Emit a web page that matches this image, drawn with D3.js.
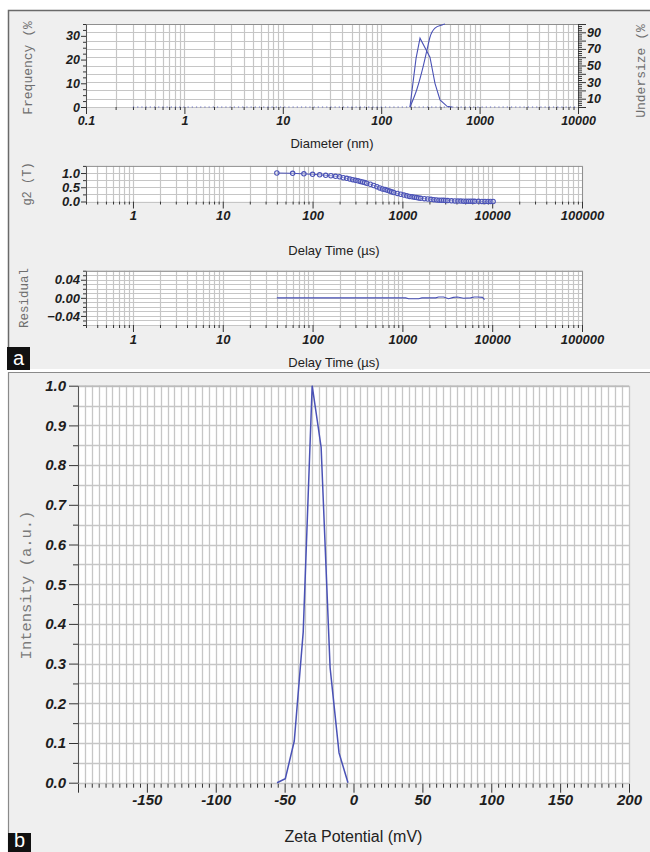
<!DOCTYPE html>
<html>
<head>
<meta charset="utf-8">
<script src="https://cdn.jsdelivr.net/npm/d3@7"></script>
<style>
  body { margin: 0; background: #fff; }
  svg { display: block; }
</style>
</head>
<body>
<svg id="chart" width="650" height="852"></svg>
<script>
// ---- Size distribution (panel a, top) ----
const sizeDiameter = [196, 226, 248, 313, 352, 396, 467, 525];
const sizeFrequency = [0, 20.5, 29, 21, 10, 3, 0.3, 0];
const undersizeDiameter = [196, 231, 266, 292, 313, 352, 415, 445];
const undersizePercent = [0, 21.7, 48, 68.7, 84, 95, 98.8, 100];
const frequencyBaseline = [0.3, 10000];
const diameterTickLabels = [0.1, 1, 10, 100, 1000, 10000];
const frequencyTickLabels = [0, 10, 20, 30];
const undersizeTickLabels = [10, 30, 50, 70, 90];

// ---- Correlation function (panel a, middle) ----
const g2Delay = [40, 60, 80, 100, 120, 140, 160, 180, 200,
  220, 240, 260, 280, 300, 320, 340, 360, 380, 400,
  440, 480, 520, 560, 600, 640, 680, 720, 760, 800,
  880, 960, 1040, 1120, 1200, 1280, 1360, 1440, 1520, 1600,
  1760, 1920, 2080, 2240, 2400, 2560, 2720, 2880, 3040, 3200,
  3520, 3840, 4160, 4480, 4800, 5120, 5440, 5760, 6080, 6400,
  7040, 7680, 8320, 8960, 9600, 10240];
const g2Value = [1.00, 0.99, 0.97, 0.955, 0.935, 0.92, 0.905, 0.885, 0.865,
  0.834, 0.812, 0.789, 0.766, 0.745, 0.725, 0.705, 0.685, 0.665, 0.645,
  0.605, 0.562, 0.52, 0.478, 0.443, 0.418, 0.392, 0.366, 0.34, 0.315,
  0.283, 0.254, 0.225, 0.198, 0.179, 0.165, 0.151, 0.137, 0.123, 0.11,
  0.099, 0.088, 0.076, 0.065, 0.055, 0.048, 0.044, 0.04, 0.037, 0.033,
  0.025, 0.019, 0.016, 0.014, 0.012, 0.011, 0.01, 0.009, 0.008, 0.007,
  0.005, 0.004, 0.003, 0.002, 0.001, 0.0];
const delayTickLabels = [1, 10, 100, 1000, 10000, 100000];
const g2TickLabels = [0.0, 0.5, 1.0];

// ---- Fit residual (panel a, bottom) ----
const residualDelay = [40, 1000, 1088, 1175, 1517, 1650, 2350, 2529, 2876, 3266, 3700, 4111, 4797, 5737, 6300, 6871, 7802, 8210];
const residualValue = [0, 0, 0, -0.002, -0.002, 0, 0, 0.002, 0.002, -0.002, 0.001, 0.002, -0.001, 0, 0.002, 0.002, 0.001, -0.004];
const residualTickLabels = [-0.04, 0.00, 0.04];

// ---- Zeta potential distribution (panel b) ----
const zetaPotential = [-55.5, -49.5, -43, -36.5, -30, -23.5, -17, -10.5, -4];
const zetaIntensity = [0, 0.01, 0.105, 0.38, 1.0, 0.845, 0.29, 0.075, 0];
const zetaTickLabels = [-150, -100, -50, 0, 50, 100, 150, 200];
const intensityTickLabels = [0, 0.1, 0.2, 0.3, 0.4, 0.5, 0.6, 0.7, 0.8, 0.9, 1.0];

const svg = d3.select('#chart');
const GRID = '#c6c6c6';
const BLUE = '#4a52b6';
const SANS = "'Liberation Sans', Arial, sans-serif";
const MONO = "'Liberation Mono', 'Courier New', monospace";

// Every 1..9 × 10^n value inside a log domain, for ticks and gridlines
function logSteps(lo, hi) {
  const out = [];
  for (let e = Math.floor(Math.log10(lo)); e <= Math.ceil(Math.log10(hi)); e++) {
    for (let k = 1; k <= 9; k++) {
      const v = +(k * Math.pow(10, e)).toPrecision(4);
      if (v >= lo * 0.999 && v <= hi * 1.001) out.push(v);
    }
  }
  return out;
}
const isDecade = v => Math.abs(Math.log10(v) - Math.round(Math.log10(v))) < 1e-9;
const near = (list, v) => list.some(d => Math.abs(d - v) < 1e-9);

// Panel backgrounds and frames
svg.append('rect').attr('x', 8).attr('y', 10).attr('width', 642).attr('height', 359).attr('fill', '#efefef');
svg.append('rect').attr('x', 8).attr('y', 372).attr('width', 642).attr('height', 480).attr('fill', '#efefef');
svg.append('path').attr('d', 'M8.5,369V10.5H650').attr('fill', 'none').attr('stroke', '#6a6a6a').attr('stroke-width', 1.5);
svg.append('path').attr('d', 'M8.5,852V372.5H650').attr('fill', 'none').attr('stroke', '#8a8a8a').attr('stroke-width', 1.2);

function styleTickText(sel, size) {
  sel.selectAll('text')
    .attr('font-family', SANS).attr('font-size', size)
    .attr('font-weight', 'bold').attr('font-style', 'italic').attr('fill', '#1d1d1d');
}

// A white plot area with a logarithmic x axis
function logPanel(opts) {
  const { x, y, gridY, tickLabels, labelSize, labelGap } = opts;
  const [x0, x1] = x.range();
  const [yb, yt] = y.range();
  const g = svg.append('g');
  g.append('rect').attr('x', x0).attr('y', yt).attr('width', x1 - x0).attr('height', yb - yt).attr('fill', '#fff');
  const steps = logSteps(x.domain()[0], x.domain()[1]);
  g.append('g').selectAll('line').data(steps).join('line')
    .attr('x1', d => Math.round(x(d)) + 0.5).attr('x2', d => Math.round(x(d)) + 0.5)
    .attr('y1', yt).attr('y2', yb).attr('stroke', GRID).attr('stroke-width', 1.2);
  g.append('g').selectAll('line').data(gridY).join('line')
    .attr('x1', x0).attr('x2', x1)
    .attr('y1', d => Math.round(opts.gridScale(d)) + 0.5).attr('y2', d => Math.round(opts.gridScale(d)) + 0.5)
    .attr('stroke', GRID).attr('stroke-width', 1.2);
  // top and right border
  g.append('path').attr('d', `M${x0},${yt + 0.5}H${x1 + 0.5}V${yb}`).attr('fill', 'none').attr('stroke', '#8f8f8f');
  // bottom axis
  const ax = g.append('g').attr('transform', `translate(0,${yb})`)
    .call(d3.axisBottom(x).tickValues(steps).tickSizeInner(3).tickSizeOuter(0).tickPadding(labelGap)
      .tickFormat(d => near(tickLabels, d) ? String(d) : ''));
  ax.select('.domain').remove();
  ax.selectAll('.tick line').attr('stroke', '#333').attr('y2', d => isDecade(d) ? 7 : 3);
  styleTickText(ax, labelSize);
  return g;
}

function leftAxis(g, scale, ticks, labels, fmt, x0, size, majorLen, minorLen) {
  const ax = g.append('g').attr('transform', `translate(${x0},0)`)
    .call(d3.axisLeft(scale).tickValues(ticks).tickSizeInner(minorLen).tickSizeOuter(0).tickPadding(majorLen - 2)
      .tickFormat(d => near(labels, d) ? fmt(d) : ''));
  ax.select('.domain').attr('stroke', '#555');
  ax.selectAll('.tick line').attr('stroke', '#333').attr('x2', d => near(labels, d) ? -majorLen : -minorLen);
  styleTickText(ax, size);
  return ax;
}

function axisTitle(text, x, y, size) {
  svg.append('text').attr('x', x).attr('y', y).attr('text-anchor', 'middle')
    .attr('font-family', SANS).attr('font-size', size).attr('fill', '#222').text(text);
}
function sideTitle(text, x, y, size, color) {
  svg.append('text').attr('transform', `translate(${x},${y}) rotate(-90)`).attr('text-anchor', 'middle')
    .attr('dy', '0.35em').attr('font-family', MONO).attr('font-size', size).attr('fill', color).text(text);
}

// ===== Panel a, top: size distribution =====
const xDia = d3.scaleLog().domain([0.1, 10000]).range([86, 578]);
const yFreq = d3.scaleLinear().domain([0, 35]).range([107, 24]);
const yUnder = d3.scaleLinear().domain([0, 100]).range([107, 24]);
const pTop = logPanel({ x: xDia, y: yFreq, gridY: d3.range(0, 101, 10), gridScale: yUnder,
  tickLabels: diameterTickLabels, labelSize: 12.5, labelGap: 6 });
leftAxis(pTop, yFreq, d3.range(0, 35.1, 2.5), frequencyTickLabels, d => d3.format('d')(d), 86, 12.5, 5, 3);
{
  const ax = pTop.append('g').attr('transform', 'translate(578,0)')
    .call(d3.axisRight(yUnder).tickValues(d3.range(0, 100.1, 2.5)).tickSizeInner(4).tickSizeOuter(0).tickPadding(5)
      .tickFormat(d => near(undersizeTickLabels, d) ? String(d) : ''));
  ax.select('.domain').attr('stroke', '#555');
  ax.selectAll('.tick line').attr('stroke', '#333').attr('x2', d => d % 10 === 0 ? 8 : 4);
  styleTickText(ax, 12.5);
}
pTop.append('path').datum(frequencyBaseline)
  .attr('d', d3.line().x(d => xDia(d)).y(() => yFreq(0)))
  .attr('stroke', BLUE).attr('stroke-width', 1).attr('stroke-dasharray', '1.2,3').attr('fill', 'none').attr('opacity', 0.8);
pTop.append('path').datum(d3.zip(sizeDiameter, sizeFrequency))
  .attr('d', d3.line().x(d => xDia(d[0])).y(d => yFreq(d[1])))
  .attr('stroke', BLUE).attr('stroke-width', 1.1).attr('fill', 'none');
pTop.append('path').datum(d3.zip(undersizeDiameter, undersizePercent))
  .attr('d', d3.line().x(d => xDia(d[0])).y(d => yUnder(d[1])).curve(d3.curveMonotoneX))
  .attr('stroke', BLUE).attr('stroke-width', 1.1).attr('fill', 'none');
axisTitle('Diameter (nm)', 332, 147.5, 13);
sideTitle('Frequency (%', 27, 68, 13, '#6e6e6e');
sideTitle('Undersize (%', 640, 71, 13, '#6e6e6e');

// ===== Panel a, middle: correlation function =====
const xDelay = d3.scaleLog().domain([0.3, 100000]).range([86, 582]);
const yG2 = d3.scaleLinear().domain([0, 1.25]).range([201.5, 165.9]);
const pMid = logPanel({ x: xDelay, y: yG2, gridY: [0, 0.25, 0.5, 0.75, 1.0], gridScale: yG2,
  tickLabels: delayTickLabels, labelSize: 13, labelGap: 6 });
leftAxis(pMid, yG2, [0, 0.25, 0.5, 0.75, 1.0, 1.25], g2TickLabels, d => d3.format('.1f')(d), 86, 13, 5, 3);
pMid.append('path').datum(d3.zip(g2Delay, g2Value))
  .attr('d', d3.line().x(d => xDelay(d[0])).y(d => yG2(d[1])))
  .attr('stroke', BLUE).attr('stroke-width', 1).attr('fill', 'none');
pMid.append('g').selectAll('circle').data(d3.zip(g2Delay, g2Value)).join('circle')
  .attr('cx', d => xDelay(d[0])).attr('cy', d => yG2(d[1])).attr('r', 2.2)
  .attr('fill', '#fff').attr('fill-opacity', 0.3).attr('stroke', BLUE).attr('stroke-width', 1.1);
axisTitle('Delay Time (µs)', 334, 254.5, 13);
sideTitle('g2 (T)', 27, 184, 12, '#6e6e6e');

// ===== Panel a, bottom: residual =====
const yRes = d3.scaleLinear().domain([-0.06, 0.06]).range([325, 270.7]);
const pRes = logPanel({ x: xDelay, y: yRes, gridY: d3.range(-6, 7).map(i => i / 100), gridScale: yRes,
  tickLabels: delayTickLabels, labelSize: 13, labelGap: 7 });
leftAxis(pRes, yRes, d3.range(-6, 7).map(i => i / 100), residualTickLabels, d => d3.format('.2f')(d), 86, 13, 5, 3);
pRes.append('path').datum(d3.zip(residualDelay, residualValue))
  .attr('d', d3.line().x(d => xDelay(d[0])).y(d => yRes(d[1])))
  .attr('stroke', BLUE).attr('stroke-width', 1.1).attr('fill', 'none');
axisTitle('Delay Time (µs)', 334, 366.5, 13);
sideTitle('Residual', 24, 298, 12.5, '#6e6e6e');

// ===== Panel b: zeta potential =====
const xZeta = d3.scaleLinear().domain([-200, 200]).range([78, 629]);
const yInt = d3.scaleLinear().domain([0, 1]).range([782.7, 385.7]);
const pZ = svg.append('g');
pZ.append('rect').attr('x', 78).attr('y', 385.7).attr('width', 551).attr('height', 397).attr('fill', '#fff');
const zGrid = d3.range(-200, 201, 5);
const iGrid = d3.range(0, 21).map(i => i / 20);
pZ.append('g').selectAll('line').data(zGrid).join('line')
  .attr('x1', d => Math.round(xZeta(d)) + 0.5).attr('x2', d => Math.round(xZeta(d)) + 0.5)
  .attr('y1', 385.7).attr('y2', 782.7).attr('stroke', GRID).attr('stroke-width', 1.3);
pZ.append('g').selectAll('line').data(iGrid).join('line')
  .attr('x1', 78).attr('x2', 629)
  .attr('y1', d => Math.round(yInt(d)) + 0.5).attr('y2', d => Math.round(yInt(d)) + 0.5)
  .attr('stroke', GRID).attr('stroke-width', 1.3);
pZ.append('line').attr('x1', 78).attr('x2', 629).attr('y1', 386).attr('y2', 386).attr('stroke', '#b0b0b0');
{
  const ax = pZ.append('g').attr('transform', 'translate(0,782.7)')
    .call(d3.axisBottom(xZeta).tickValues(zGrid).tickSizeInner(4).tickSizeOuter(0).tickPadding(8)
      .tickFormat(d => near(zetaTickLabels, d) ? String(d) : ''));
  ax.select('.domain').remove();
  ax.selectAll('.tick line').attr('stroke', '#333').attr('y1', 1).attr('y2', d => d % 50 === 0 ? 10 : 5);
  styleTickText(ax, 15);
}
leftAxis(pZ, yInt, iGrid, intensityTickLabels, d => d3.format('.1f')(d), 78, 15, 9, 5);
pZ.append('path').datum(d3.zip(zetaPotential, zetaIntensity))
  .attr('d', d3.line().x(d => xZeta(d[0])).y(d => yInt(d[1])))
  .attr('stroke', BLUE).attr('stroke-width', 1.5).attr('fill', 'none');
axisTitle('Zeta Potential (mV)', 353.5, 842, 16);
sideTitle('Intensity (a.u.)', 26, 585, 15.5, '#7a7a7a');

// Panel letters
function panelLetter(letter, x, y, w, h) {
  svg.append('rect').attr('x', x).attr('y', y).attr('width', w).attr('height', h).attr('fill', '#111');
  svg.append('text').attr('x', x + w / 2).attr('y', y + h - 5).attr('text-anchor', 'middle')
    .attr('font-family', SANS).attr('font-size', 20).attr('fill', '#fff').text(letter);
}
panelLetter('a', 7, 347, 23, 23);
panelLetter('b', 8, 833, 23, 19);
</script>
</body>
</html>
